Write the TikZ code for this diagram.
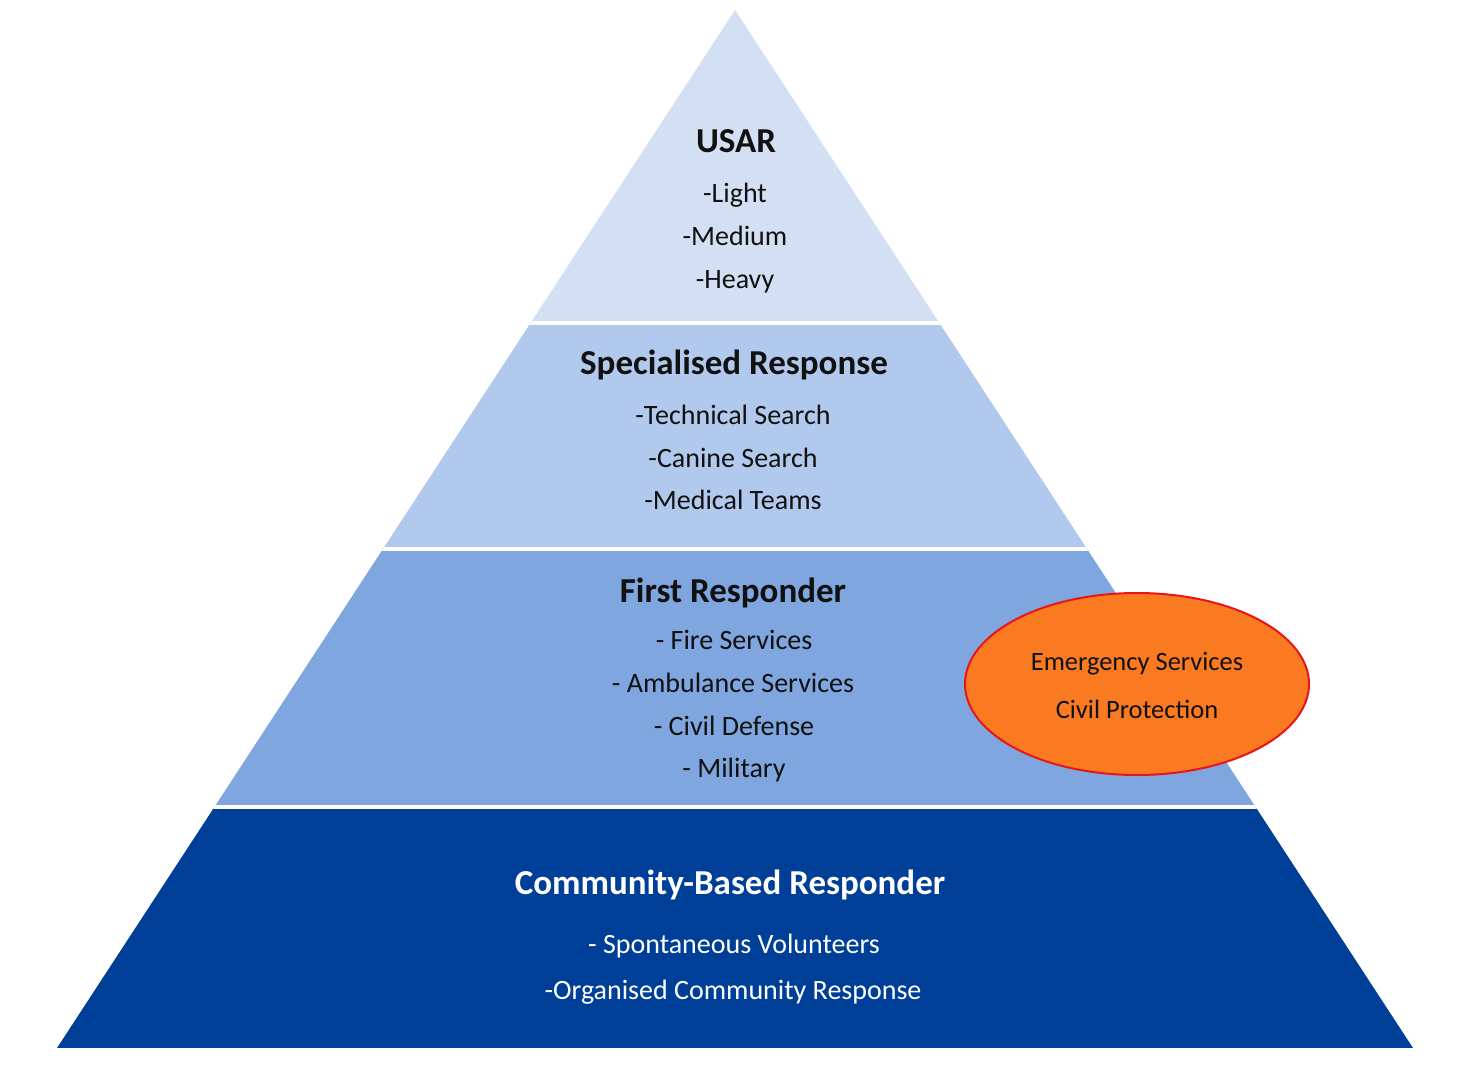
\documentclass[tikz,border=0pt]{standalone}
\usepackage{fontspec}
\setmainfont{Carlito}
\usetikzlibrary{shapes.geometric}
\definecolor{bandA}{HTML}{D3E0F3}
\definecolor{bandB}{HTML}{B1C9EC}
\definecolor{bandC}{HTML}{7FA6DF}
\definecolor{bandD}{HTML}{003F98}
\definecolor{ovalfill}{HTML}{FA7A22}
\definecolor{ovalline}{HTML}{E8161B}
\definecolor{ink}{HTML}{111111}
\begin{document}
\begin{tikzpicture}[x=1pt,y=-1pt,
  title/.style={anchor=base,inner sep=0pt,font=\fontsize{35}{35}\selectfont\bfseries,text=ink},
  item/.style={anchor=base,inner sep=0pt,font=\fontsize{28}{28}\selectfont,text=ink},
  titlew/.style={title,text=white},
  itemw/.style={item,text=white},
  ovaltext/.style={anchor=base,inner sep=0pt,font=\fontsize{26.5}{26.5}\selectfont,text=ink},
  sep/.style={white,line width=4pt}]
\useasboundingbox[fill=white] (0,0) rectangle (1470,1070);
\coordinate (apex) at (735,10);
\coordinate (bl) at (57,1048);
\coordinate (br) at (1413,1048);
\begin{scope}
  \clip (apex) -- (bl) -- (br) -- cycle;
  \fill[bandA] (0,0) rectangle (1470,323);
  \fill[bandB] (0,323) rectangle (1470,548.5);
  \fill[bandC] (0,548.5) rectangle (1470,806.5);
  \fill[bandD] (0,806.5) rectangle (1470,1048);
  \draw[sep] (0,323) -- (1470,323);
  \draw[sep] (0,548.5) -- (1470,548.5);
  \draw[sep] (0,806.5) -- (1470,806.5);
\end{scope}
% USAR
\node[title] (t1) at (736,153) {USAR};
\node[item] (t1a) at (735,202) {-Light};
\node[item] (t1b) at (735,245) {-Medium};
\node[item] (t1c) at (735,288) {-Heavy};
% Specialised
\node[title] (t2) at (734,374) {Specialised Response};
\node[item] (t2a) at (733,424) {-Technical Search};
\node[item] (t2b) at (733,467) {-Canine Search};
\node[item] (t2c) at (733,509) {-Medical Teams};
% First responder
\node[title] (t3) at (733,602) {First Responder};
\node[item] (t3a) at (734,649) {- Fire Services};
\node[item] (t3b) at (733,692) {- Ambulance Services};
\node[item] (t3c) at (734,735) {- Civil Defense};
\node[item] (t3d) at (734,777) {- Military};
% Community
\node[titlew] (t4) at (730,894) {Community-Based Responder};
\node[itemw] (t4a) at (734,953) {- Spontaneous Volunteers};
\node[itemw] (t4b) at (733,999) {-Organised Community Response};
% Oval
\node[ellipse,draw=ovalline,fill=ovalfill,line width=2pt,minimum width=344pt,minimum height=182pt,inner sep=0pt] (oval) at (1137,684) {};
\node[ovaltext] (o1) at (1137,670) {Emergency Services};
\node[ovaltext] (o2) at (1137,718) {Civil Protection};
\end{tikzpicture}
\end{document}
